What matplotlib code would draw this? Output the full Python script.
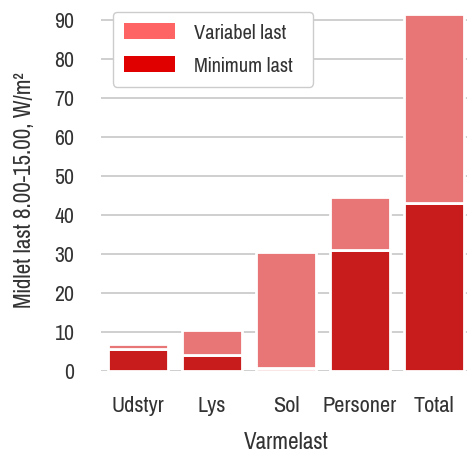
import matplotlib
matplotlib.use("Agg")
import matplotlib.pyplot as plt
from matplotlib.patches import Patch
from matplotlib import font_manager

categories = ["Udstyr", "Lys", "Sol", "Personer", "Total"]
minimum_last = [5.7, 4.2, 0.7, 31.1, 43.1]
variabel_last = [1.1, 6.2, 29.7, 13.6, 48.5]
yticks = [0, 10, 20, 30, 40, 50, 60, 70, 80, 90]

names = {f.name for f in font_manager.fontManager.ttflist}
prefs = ["Liberation Sans Narrow", "Arial Narrow", "Nimbus Sans Narrow", "Pragati Narrow",
         "Roboto Condensed", "Archivo Narrow", "PT Sans Narrow", "Liberation Sans"]
fam = next(p for p in prefs if p in names)
plt.rcParams["font.family"] = [fam, "DejaVu Sans"]

W, H = 467, 457
fig = plt.figure(figsize=(W / 100, H / 100), dpi=100)
ax = fig.add_axes([101 / W, (H - 371) / H, 370 / W, 374 / H])

light_bar = "#E87676"
dark_bar = "#C81B1B"
light_leg = "#FF6464"
dark_leg = "#E00000"

x = range(len(categories))
ax.bar(x, minimum_last, width=0.8, color=dark_bar, edgecolor="white", linewidth=2, zorder=2)
ax.bar(x, variabel_last, bottom=minimum_last, width=0.8, color=light_bar,
       edgecolor="white", linewidth=2, zorder=2)

ax.set_xlim(-0.5, len(categories) - 0.5)
ax.set_ylim(0, 95.9)
ax.set_yticks(yticks)
ax.set_xticks(list(x))
ax.set_xticklabels(categories)
ax.grid(axis="y", color="#CCCCCC", linewidth=1.3, zorder=0)
ax.set_axisbelow(True)
for s in ax.spines.values():
    s.set_visible(False)
ax.tick_params(axis="both", length=0, labelsize=17.5, colors="#333333")
ax.tick_params(axis="y", labelsize=17, pad=19)
ax.tick_params(axis="x", pad=18)

ax.set_ylabel("Midlet last 8.00-15.00, W/m²", fontsize=18, color="#333333")
ax.yaxis.set_label_coords(-66 / 370, 0.484)
ax.set_xlabel("Varmelast", fontsize=18, color="#333333")
ax.xaxis.set_label_coords(0.5, -61 / 374)
ax.xaxis.label.set_va("top")

handles = [Patch(facecolor=light_leg, edgecolor="none"),
           Patch(facecolor=dark_leg, edgecolor="none")]
leg = fig.legend(handles, ["Variabel last", "Minimum last"], loc="upper left",
                 bbox_to_anchor=(113 / W, 1 - 86 / H, 200 / W, 74 / H),
                 bbox_transform=fig.transFigure, mode="expand",
                 borderaxespad=0, fontsize=16, handlelength=2.3, handletextpad=0.85,
                 labelspacing=0.6, frameon=True, fancybox=True, framealpha=1,
                 edgecolor="#CCCCCC", borderpad=0.5)
for t in leg.get_texts():
    t.set_color("#333333")

fig.savefig("out.png", dpi=100)
